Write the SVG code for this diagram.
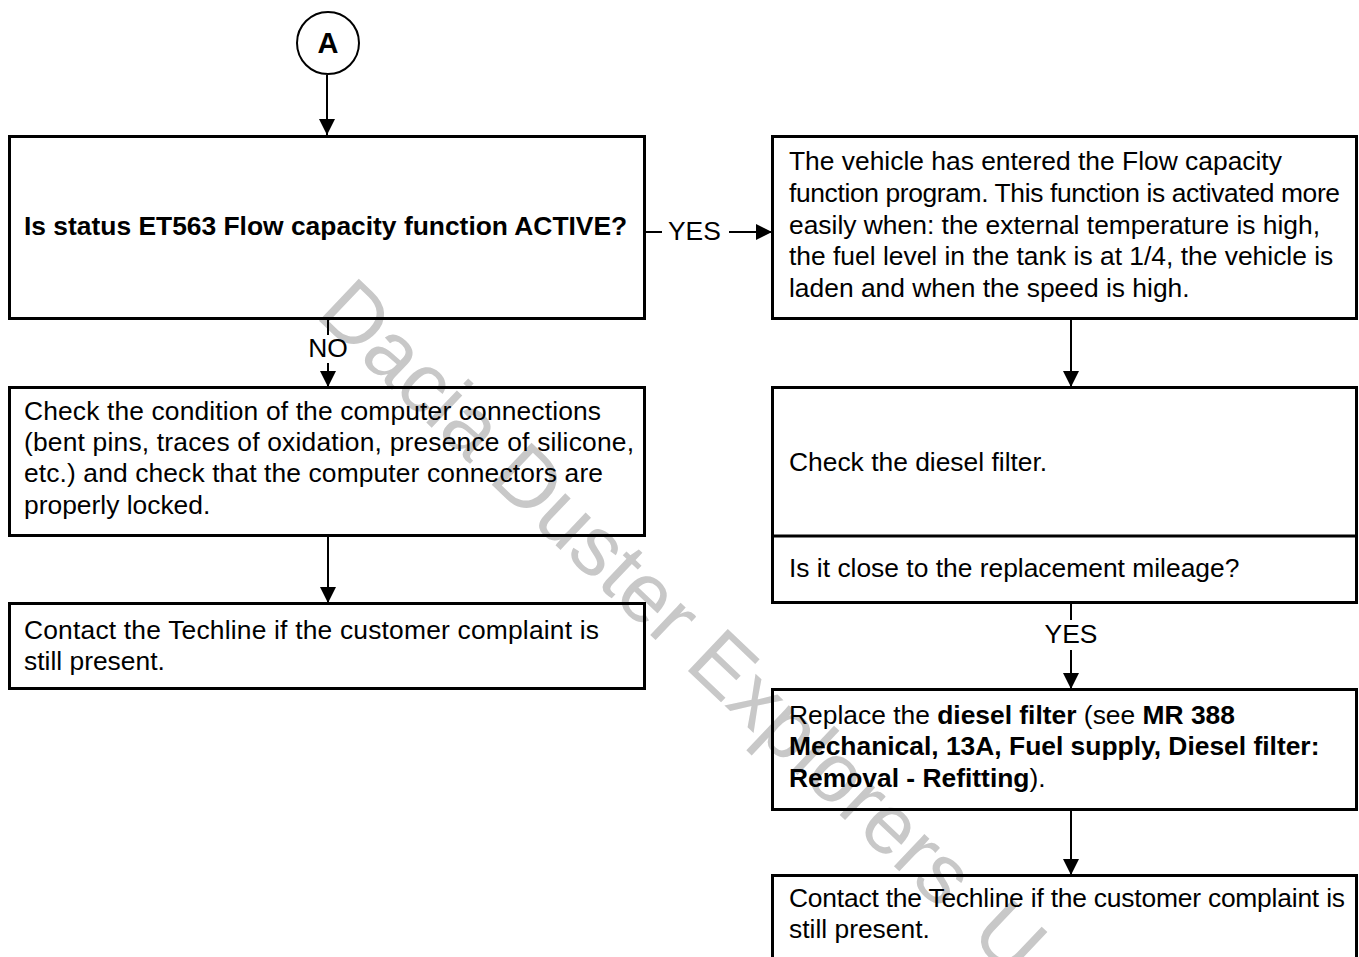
<svg xmlns="http://www.w3.org/2000/svg" width="1359" height="957" viewBox="0 0 1359 957">
<style>
text{font-family:"Liberation Sans",Arial,sans-serif;font-size:26.4px;fill:#000}
.b{font-weight:bold}
.box{fill:none;stroke:#000;stroke-width:3}
.ln{fill:none;stroke:#000;stroke-width:2}
.wm{font-size:84px;fill:#c8c8c8}
</style>
<defs>
<marker id="ah" viewBox="0 0 16 16" refX="16" refY="8" markerWidth="16" markerHeight="16" markerUnits="userSpaceOnUse" orient="auto">
<path d="M0,0 L16,8 L0,16 Z" fill="#000"/>
</marker>
</defs>
<rect width="1359" height="957" fill="#fff"/>
<text class="wm" transform="translate(314,316) rotate(43.5)">Dacia Duster Explorers <tspan dx="15">U</tspan></text>

<g id="start">
<circle cx="328" cy="43" r="31" fill="none" stroke="#000" stroke-width="2"/>
<text class="b" x="328" y="53" text-anchor="middle" style="font-size:29px">A</text>
</g>

<g id="q1">
<rect class="box" x="9.5" y="136.5" width="635" height="182"/>
<text class="b" x="24" y="235">Is status ET563 Flow capacity function ACTIVE?</text>
</g>

<g id="flowinfo">
<rect class="box" x="772.5" y="136.5" width="584" height="182"/>
<text x="789" y="170">The vehicle has entered the Flow capacity</text>
<text x="789" y="202" textLength="551" lengthAdjust="spacing">function program. This function is activated more</text>
<text x="789" y="234">easily when: the external temperature is high,</text>
<text x="789" y="265">the fuel level in the tank is at 1/4, the vehicle is</text>
<text x="789" y="297">laden and when the speed is high.</text>
</g>

<g id="checkconn">
<rect class="box" x="9.5" y="387.5" width="635" height="148"/>
<text x="24" y="420" textLength="577" lengthAdjust="spacing">Check the condition of the computer connections</text>
<text x="24" y="451" textLength="610" lengthAdjust="spacing">(bent pins, traces of oxidation, presence of silicone,</text>
<text x="24" y="482" textLength="579" lengthAdjust="spacing">etc.) and check that the computer connectors are</text>
<text x="24" y="514">properly locked.</text>
</g>

<g id="techline1">
<rect class="box" x="9.5" y="603.5" width="635" height="85"/>
<text x="24" y="639" textLength="575" lengthAdjust="spacing">Contact the Techline if the customer complaint is</text>
<text x="24" y="670">still present.</text>
</g>

<g id="dieselcheck">
<rect class="box" x="772.5" y="387.5" width="584" height="215"/>
<line class="box" x1="772.5" y1="536" x2="1356.5" y2="536"/>
<text x="789" y="471">Check the diesel filter.</text>
<text x="789" y="577">Is it close to the replacement mileage?</text>
</g>

<g id="replace">
<rect class="box" x="772.5" y="689.5" width="584" height="120"/>
<text x="789" y="724">Replace the <tspan class="b">diesel filter</tspan> (see <tspan class="b">MR 388</tspan></text>
<text x="789" y="755" class="b">Mechanical, 13A, Fuel supply, Diesel filter:</text>
<text x="789" y="787"><tspan class="b">Removal - Refitting</tspan>).</text>
</g>

<g id="techline2">
<rect class="box" x="772.5" y="875.5" width="584" height="90"/>
<text x="789" y="907" textLength="556" lengthAdjust="spacing">Contact the Techline if the customer complaint is</text>
<text x="789" y="938">still present.</text>
</g>

<g id="connectors">
<line class="ln" x1="327" y1="75" x2="327" y2="135" marker-end="url(#ah)"/>
<line class="ln" x1="645" y1="232" x2="662" y2="232"/>
<text x="668" y="240">YES</text>
<line class="ln" x1="729" y1="232" x2="772" y2="232" marker-end="url(#ah)"/>
<line class="ln" x1="328" y1="318" x2="328" y2="335"/>
<text x="328" y="357" text-anchor="middle">NO</text>
<line class="ln" x1="328" y1="363" x2="328" y2="387" marker-end="url(#ah)"/>
<line class="ln" x1="328" y1="536" x2="328" y2="603" marker-end="url(#ah)"/>
<line class="ln" x1="1071" y1="318" x2="1071" y2="387" marker-end="url(#ah)"/>
<line class="ln" x1="1071" y1="603" x2="1071" y2="620"/>
<text x="1071" y="643" text-anchor="middle">YES</text>
<line class="ln" x1="1071" y1="650" x2="1071" y2="689" marker-end="url(#ah)"/>
<line class="ln" x1="1071" y1="810" x2="1071" y2="875" marker-end="url(#ah)"/>
</g>
</svg>
